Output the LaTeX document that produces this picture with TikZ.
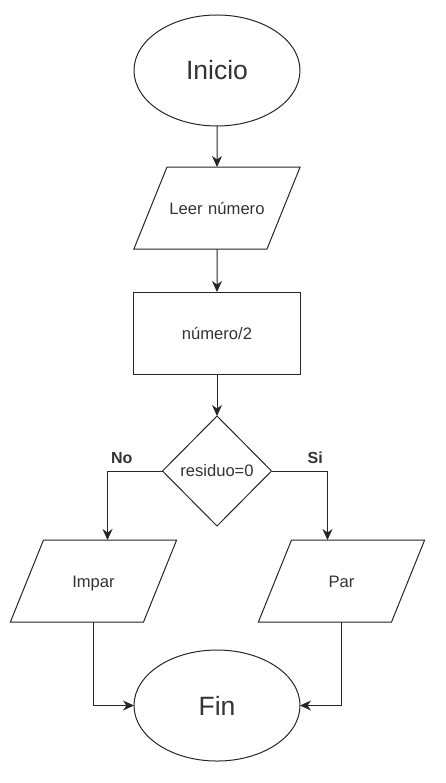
\documentclass[tikz,border=0pt]{standalone}
\usepackage{fontspec}
\setmainfont{Liberation Sans}
\usepackage{tikz}
\usetikzlibrary{arrows.meta,positioning,shapes.geometric}
\tikzset{
	>={Stealth[length=11pt,width=10pt,inset=3.5pt]},
	every edge/.style={draw=black!85, line width=1pt},
}

\begin{document}
\begin{tikzpicture}
			[x=1pt, y=-1pt, node distance=42pt, line width=1pt,
				% STYLES
				every node/.style={text=black!80, draw=black!85, outer sep=0pt},
				% The terminal style is used for the start and end ellipses
				terminal/.style={ellipse, draw, minimum width=166pt, minimum
						height=111pt, inner sep=0pt, font=\fontsize{26.5}{30}\selectfont},
				% The io style is used for reading and writing data
				io/.style={trapezium, draw, trapezium left angle=68, trapezium
						right angle=112, text width=100pt, align=center, text height=12pt,
						text depth=0pt, inner xsep=0pt, inner ysep=35pt,
						font=\fontsize{16.6}{20}\selectfont},
				% The process style is used for the operations
				process/.style={rectangle, draw, minimum width=167pt, minimum
						height=82pt, font=\fontsize{16.6}{20}\selectfont},
				% The decision style is used for the condition
				decision/.style={diamond, draw, minimum width=109pt, minimum
						height=110pt, inner sep=0pt, font=\fontsize{16.6}{20}\selectfont},
				% The branch style is used for the labels of the answers
				branch/.style={draw=none, inner sep=0pt, font=\bfseries\fontsize{16}{19}\selectfont}]

			\useasboundingbox (0,0) rectangle (445,783);

			% Draw nodes
			\node [terminal] (inicio) at (217,70.5) {Inicio};
			\node [io, below=41pt of inicio] (leer) {Leer número};
			\node [process, below=43pt of leer] (division) {número/2};
			\node [decision, below=of division] (residuo) {residuo=0};
			\node [io, below=14pt of residuo, xshift=-123.5pt] (impar) {Impar};
			\node [io, below=14pt of residuo, xshift=124.5pt] (par) {Par};
			\node [terminal, below=124pt of residuo] (fin) {Fin};

			\path[->]
			(inicio) edge (leer)
			(leer) edge (division)
			(division) edge (residuo);

			\draw[->, draw=black!85] (residuo.west) -| node [branch, pos=0.37, above=7pt] {No}
			([xshift=14pt]impar.north);
			\draw[->, draw=black!85] (residuo.east) -| node [branch, pos=0.39, above=7pt] {Si}
			([xshift=-14pt]par.north);
			\draw[->, draw=black!85] (impar.south) |- (fin.west);
			\draw[->, draw=black!85] (par.south) |- (fin.east);
		\end{tikzpicture}
\end{document}
